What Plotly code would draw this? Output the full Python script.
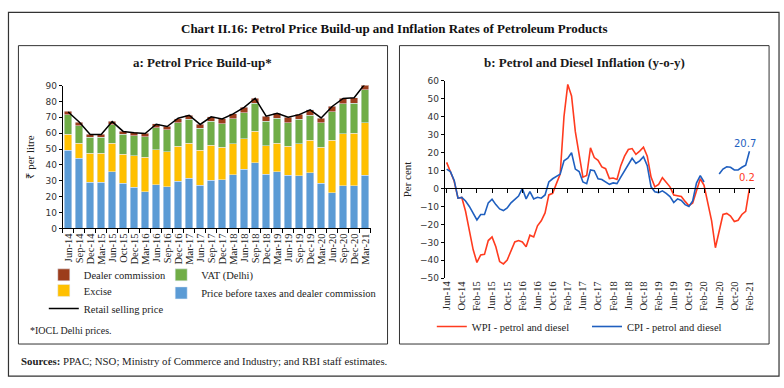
import plotly.graph_objects as go
import pandas as pd

# ---------------- data ----------------
categories = ["Jun-14","Sep-14","Dec-14","Mar-15","Jun-15","Oct-15","Dec-15","Mar-16","Jun-16","Sep-16",
              "Dec-16","Mar-17","Jun-17","Sep-17","Dec-17","Mar-18","Jun-18","Sep-18","Dec-18","Mar-19",
              "Jun-19","Sep-19","Dec-19","Mar-20","Jun-20","Sep-20","Dec-20","Mar-21"]
base_price = [49.1,44.2,29.2,29.2,35.8,28.6,25.9,23.1,27.4,26.3,29.8,31.5,27.2,30.4,30.8,33.9,37.2,41.3,
              34.1,35.6,33.5,33.3,35.2,28.4,22.5,26.8,27.0,33.5]
excise = [10.2,9.6,18.0,18.2,18.0,18.2,19.9,21.7,22.1,21.9,21.9,22.1,22.1,21.9,20.3,19.5,19.4,19.8,
          18.0,18.2,18.2,20.1,20.2,22.7,33.1,32.9,33.1,33.0]
vat = [12.3,10.8,10.1,10.1,11.6,12.5,12.5,13.1,13.9,14.0,14.8,15.1,13.9,15.2,14.7,15.7,16.2,17.6,
       15.4,15.5,14.8,15.3,16.0,15.4,17.8,18.8,18.6,21.0]
dealer = [2.2,2.3,2.0,1.8,2.1,2.0,2.2,2.0,2.4,2.2,2.6,2.7,2.4,2.9,3.3,3.1,3.5,3.3,3.3,3.3,3.6,3.1,
          3.5,3.0,3.5,3.5,3.7,3.7]
retail = [73.3,67.0,59.2,59.2,67.3,61.1,60.3,59.8,65.6,64.2,69.4,71.3,65.5,70.3,69.0,72.2,76.3,82.0,
          70.7,72.6,70.1,71.7,74.7,69.6,76.8,81.9,82.3,91.2]

months = list(pd.date_range("2014-06-01", "2021-02-01", freq="MS").strftime("%b-%y"))
wpi = [14.5,9,4,-5.4,-5,-12.7,-22.6,-34,-41.2,-37,-36.7,-29,-27,-32.5,-40.7,-42,-39.8,-35,-29.8,-29,
       -29.8,-32.5,-26,-27,-20.8,-18,-13.6,-3.6,-2.7,2.7,8,40,57.9,51.5,31.6,19,6.3,7.2,22.6,17.2,
       15.7,12,11,5.5,5.8,5.0,12.7,18,21.7,22.2,19,20.8,23,18,6.3,0.9,2.3,6,3.6,0.9,
       -3.6,-4,-4.5,-7.2,-9.6,-8.1,-0.9,5.4,1.8,-9,-18,-33,-23,-14.5,-13.9,-15.4,-18.4,-17.7,-14.5,-12.7,0.2]
cpi = [10.8,9.4,4.5,-5.4,-5,-7,-10,-13.6,-17.5,-14.5,-14.5,-8,-6,-9,-11.4,-12.3,-10.8,-8,-6,-4.2,
       0,-5.8,-1.8,-5.8,-4.9,-5.4,-3.6,3.6,5.4,6.7,8,15.4,16.8,19.9,10.8,9.4,3.6,2.7,10.3,9.9,
       5.4,5.0,3.6,2.3,3.1,2.7,6.3,9.6,13.2,16.8,13.9,15.4,17.7,12.7,0.9,-1.8,-2.3,-1.3,-2.7,-4.5,
       -7.8,-5.8,-6.7,-9,-10,-7,3,7.2,3.6,None,None,None,8.1,10.8,12.1,11.8,10.3,10.3,11.8,13,20.7]
month_ticks = months[::4]

# ---------------- geometry helpers ----------------
W, H = 784, 388
def px(x): return x / W
def py(y): return 1 - y / H

SERIF = "Liberation Serif"
SANS = "DejaVu Sans"
C_BLUE, C_YEL, C_GRN, C_BRN = "#5B9BD5", "#FFC000", "#70AD47", "#9C3D1C"
C_RED, C_LBLUE = "#FF3B1F", "#1F5FBF"

fig = go.Figure()

# stacked bars (bottom to top)
fig.add_trace(go.Bar(x=categories, y=base_price, name="Price before taxes and dealer commission",
                     marker_color=C_BLUE, legend="legend4", cliponaxis=False))
fig.add_trace(go.Bar(x=categories, y=excise, name="Excise", marker_color=C_YEL,
                     legend="legend3", cliponaxis=False))
fig.add_trace(go.Bar(x=categories, y=vat, name="VAT (Delhi)", marker_color=C_GRN,
                     legend="legend2", cliponaxis=False))
fig.add_trace(go.Bar(x=categories, y=dealer, name="Dealer commission", marker_color=C_BRN,
                     legend="legend", cliponaxis=False))
fig.add_trace(go.Scatter(x=categories, y=retail, name="Retail selling price", mode="lines",
                         line=dict(color="black", width=1.5), legend="legend5", cliponaxis=False))

# right chart lines
fig.add_trace(go.Scatter(x=months, y=wpi, name="WPI - petrol and diesel", mode="lines",
                         line=dict(color=C_RED, width=1.6), xaxis="x2", yaxis="y2", legend="legend6"))
fig.add_trace(go.Scatter(x=months, y=cpi, name="CPI - petrol and diesel", mode="lines",
                         line=dict(color=C_LBLUE, width=1.6), xaxis="x2", yaxis="y2", legend="legend7"))
# carrier for the zero-line axis
fig.add_trace(go.Scatter(x=[], y=[], xaxis="x3", yaxis="y2", showlegend=False, hoverinfo="skip"))

left_dom_x = [px(59), px(368.5)]
left_dom_y = [py(229.3), py(82.7)]
right_dom_x = [px(443), px(755)]
right_dom_y = [py(280.5), py(77.7)]
zero_pos = py(188.3)
n = len(months)

tickfont_serif = dict(family=SERIF, size=10.5, color="#222")
tickfont_sans = dict(family=SANS, size=9, color="#333")

fig.update_layout(
    width=W, height=H, margin=dict(l=0, r=0, t=0, b=0),
    paper_bgcolor="white", plot_bgcolor="white",
    barmode="stack", bargap=0.32,
    xaxis=dict(domain=left_dom_x, anchor="y", type="category", range=[-0.5, len(categories) - 0.5],
               tickmode="array", tickvals=categories, ticktext=categories,
               tickangle=-90, tickfont=tickfont_serif, showline=True, linecolor="black", linewidth=1,
               ticks="outside", ticklen=4, tickcolor="black", tickson="boundaries", showgrid=False),
    yaxis=dict(domain=left_dom_y, anchor="x", range=[0, 90], dtick=10, tickfont=tickfont_sans,
               showline=True, linecolor="black", linewidth=1, ticks="outside", ticklen=3,
               tickcolor="black", showgrid=False, zeroline=False,
               title=dict(text="₹ per litre", font=dict(family=SERIF, size=11, color="#222"), standoff=8)),
    xaxis2=dict(domain=right_dom_x, anchor="y2", type="category", range=[-0.5, n + 0.5],
                tickmode="array", tickvals=month_ticks, ticktext=month_ticks, tickangle=-90,
                tickfont=tickfont_serif, showline=False, ticks="", showgrid=False, zeroline=False),
    xaxis3=dict(overlaying="x2", anchor="free", position=zero_pos, type="linear",
                range=[-0.5, n + 0.5], tickmode="array", tickvals=list(range(0, n, 4)),
                showticklabels=False, showline=True, linecolor="black", linewidth=1,
                ticks="outside", ticklen=4, tickcolor="black", showgrid=False, zeroline=False),
    yaxis2=dict(domain=right_dom_y, anchor="x2", range=[-50, 60], dtick=10, tickfont=tickfont_sans,
                showline=True, linecolor="black", linewidth=1, ticks="outside", ticklen=3,
                tickcolor="black", showgrid=False, zeroline=False,
                title=dict(text="Per cent", font=dict(family=SERIF, size=11, color="#222"), standoff=6)),
    showlegend=True,
)

leg_font = dict(family=SERIF, size=10.5, color="#222")
def leg(x, y):
    return dict(x=px(x), y=py(y), xanchor="left", yanchor="middle", orientation="h",
                font=leg_font, bgcolor="rgba(0,0,0,0)", itemclick=False, tracegroupgap=0)
fig.update_layout(
    legend=leg(40, 277), legend2=leg(158, 277), legend3=leg(40, 293), legend4=leg(158, 295.5),
    legend5=leg(40, 311.5), legend6=leg(430, 330), legend7=leg(586, 330),
)

# panel boxes
shapes = [
    dict(type="rect", xref="paper", yref="paper", x0=px(4.5), x1=px(779), y0=py(381), y1=py(7.5),
         line=dict(color="#333", width=1.2)),
    dict(type="rect", xref="paper", yref="paper", x0=px(14.5), x1=px(385.5), y0=py(348), y1=py(41.7),
         line=dict(color="#333", width=1)),
    dict(type="rect", xref="paper", yref="paper", x0=px(397.5), x1=px(769), y0=py(348), y1=py(41.7),
         line=dict(color="#333", width=1)),
]
fig.update_layout(shapes=shapes)

annotations = [
    dict(text="<b>Chart II.16: Petrol Price Build-up and Inflation Rates of Petroleum Products</b>",
         x=px(392), y=py(24), xref="paper", yref="paper", showarrow=False,
         font=dict(family=SERIF, size=13, color="#111"), xanchor="center", yanchor="middle"),
    dict(text="<b>a: Petrol Price Build-up*</b>", x=px(200), y=py(59), xref="paper", yref="paper",
         showarrow=False, font=dict(family=SERIF, size=13, color="#1a1a1a"), xanchor="center", yanchor="middle"),
    dict(text="<b>b: Petrol and Diesel Inflation (y-o-y)</b>", x=px(583), y=py(59), xref="paper", yref="paper",
         showarrow=False, font=dict(family=SERIF, size=13, color="#1a1a1a"), xanchor="center", yanchor="middle"),
    dict(text="*IOCL Delhi prices.", x=px(24), y=py(334), xref="paper", yref="paper", showarrow=False,
         font=dict(family=SERIF, size=10, color="#222"), xanchor="left", yanchor="middle"),
    dict(text="<b>Sources:</b> PPAC; NSO; Ministry of Commerce and Industry; and RBI staff estimates.",
         x=px(15), y=py(365), xref="paper", yref="paper", showarrow=False,
         font=dict(family=SERIF, size=10.8, color="#222"), xanchor="left", yanchor="middle"),
    dict(text=f"{retail[-1]}", x=categories[-1], y=retail[-1], xref="x", yref="y", showarrow=False,
         font=dict(family=SANS, size=10, color="#222"), xanchor="center", yanchor="bottom", yshift=0),
    dict(text=f"{cpi[-1]}", x=months[-1], y=cpi[-1], xref="x2", yref="y2", showarrow=False,
         font=dict(family=SANS, size=10, color=C_LBLUE), xanchor="center", yanchor="bottom", xshift=-4),
    dict(text=f"{wpi[-1]}", x=months[-1], y=wpi[-1], xref="x2", yref="y2", showarrow=False,
         font=dict(family=SANS, size=10, color=C_RED), xanchor="center", yanchor="bottom", xshift=-2, yshift=3),
]
fig.update_layout(annotations=annotations)

fig.write_html("out.html", config={"displayModeBar": False},
               post_script="document.body.style.margin='0';document.body.style.overflow='hidden';")
